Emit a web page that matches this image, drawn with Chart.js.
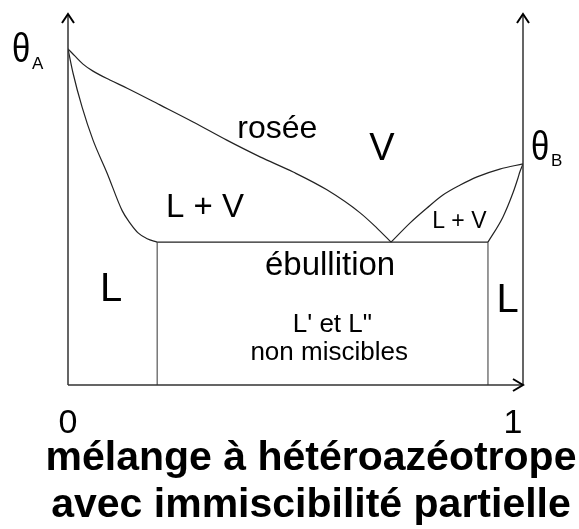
<!DOCTYPE html>
<html>
<head>
<meta charset="utf-8">
<script src="https://cdn.jsdelivr.net/npm/chart.js@4"></script>
<style>
  html, body { margin: 0; padding: 0; background: #fff; }
  canvas { display: block; }
</style>
</head>
<body>
<canvas id="chart" width="579" height="529"></canvas>
<script>
// mole fraction of B (x) vs temperature (arbitrary units, 0..100)
const roseeX = [0, 0.015, 0.033, 0.055, 0.092, 0.130, 0.202, 0.275, 0.349, 0.422, 0.495, 0.569, 0.642, 0.679, 0.710];
const roseeT = [90.6, 88.7, 86.5, 84.6, 82.2, 80.0, 75.5, 70.9, 66.0, 61.5, 57.4, 52.6, 46.4, 42.3, 38.5];

const liqAX = [0, 0.011, 0.031, 0.055, 0.086, 0.119, 0.136, 0.154, 0.174, 0.196];
const liqAT = [90.6, 84.1, 74.9, 66.0, 57.1, 47.0, 43.7, 41.0, 39.4, 38.5];

const vapBX = [0.710, 0.752, 0.789, 0.824, 0.862, 0.899, 0.949, 1.0];
const vapBT = [38.5, 43.7, 47.7, 51.2, 53.9, 56.1, 58.2, 59.6];

const liqBX = [0.923, 0.956, 0.978, 0.989, 0.993, 1.0];
const liqBT = [38.5, 45.3, 51.8, 55.8, 57.4, 59.6];

const ebullX = [0.196, 0.923];
const ebullT = [38.5, 38.5];

const limitsX = [0.196, 0.923];   // edges of the L' + L'' region
const limitsT = [-1, 38.5];

const tickLabels = ["0", "1"];
const title = ["mélange à hétéroazéotrope", "avec immiscibilité partielle"];

const pts = (xs, ys) => xs.map((x, i) => ({ x, y: ys[i] }));

function curve(data, color) {
  return {
    data,
    showLine: true,
    borderColor: color || "#222",
    borderWidth: 1.2,
    pointRadius: 0,
    fill: false,
    cubicInterpolationMode: "monotone",
  };
}

const datasets = [
  curve(pts(roseeX, roseeT)),
  curve(pts(liqAX, liqAT)),
  curve(pts(vapBX, vapBT)),
  curve(pts(liqBX, liqBT)),
  curve(pts(ebullX, ebullT)),
  curve(pts([limitsX[0], limitsX[0]], limitsT), "#555"),
  curve(pts([limitsX[1], limitsX[1]], limitsT), "#555"),
];

const FONT = "'Liberation Sans', Arial, sans-serif";

const decor = {
  id: "decor",
  afterDatasetsDraw(chart) {
    const { ctx, scales: { x, y } } = chart;
    const px = v => x.getPixelForValue(v);
    const py = v => y.getPixelForValue(v);
    ctx.save();

    // axes
    ctx.strokeStyle = "#333";
    ctx.lineWidth = 1.5;
    ctx.beginPath();
    ctx.moveTo(px(0), py(0)); ctx.lineTo(px(0), py(100));
    ctx.moveTo(px(1), py(0)); ctx.lineTo(px(1), py(100));
    ctx.moveTo(px(0), py(0)); ctx.lineTo(px(1), py(0));
    ctx.stroke();

    // arrow heads
    ctx.strokeStyle = "#000";
    ctx.lineWidth = 2;
    ctx.beginPath();
    [0, 1].forEach(v => {
      ctx.moveTo(px(v) - 6, py(100) + 9); ctx.lineTo(px(v), py(100)); ctx.lineTo(px(v) + 6, py(100) + 9);
    });
    ctx.moveTo(px(1) - 10, py(0) - 6); ctx.lineTo(px(1), py(0)); ctx.lineTo(px(1) - 10, py(0) + 6);
    ctx.stroke();

    ctx.fillStyle = "#000";
    ctx.textAlign = "center";
    ctx.textBaseline = "alphabetic";
    const txt = (s, xv, yv, size, weight) => {
      ctx.font = `${weight || "normal"} ${size}px ${FONT}`;
      ctx.fillText(s, px(xv), py(yv));
    };

    txt("rosée", 0.460, 66.6, 32);
    txt("V", 0.690, 60.6, 38);
    txt("L + V", 0.301, 45.3, 33);
    txt("L + V", 0.860, 42.3, 23);
    txt("ébullition", 0.576, 29.6, 33);
    txt("L' et L\"", 0.581, 14.3, 26);
    txt("non miscibles", 0.574, 6.7, 26);
    txt("L", 0.095, 22.6, 40);
    txt("L", 0.966, 19.7, 40);
    txt(tickLabels[0], 0, -12.9, 34);
    txt(tickLabels[1], 0.978, -12.9, 34);

    // theta labels (narrow, symbol-like)
    const theta = (lx, base, sub, sx, sbase) => {
      ctx.save();
      ctx.textAlign = "left";
      ctx.translate(lx, base);
      ctx.scale(0.82, 1);
      ctx.font = `40px ${FONT}`;
      ctx.fillText("θ", 0, 0);
      ctx.restore();
      ctx.textAlign = "left";
      ctx.font = `17px ${FONT}`;
      ctx.fillText(sub, sx, sbase);
    };
    theta(12, 62, "A", 32, 69);
    theta(531, 160, "B", 551, 166);

    // title
    ctx.textAlign = "center";
    ctx.font = `bold 41px ${FONT}`;
    ctx.fillText(title[0], 311, 470);
    ctx.fillText(title[1], 311, 517);
    ctx.restore();
  }
};

new Chart(document.getElementById("chart"), {
  type: "scatter",
  data: { datasets },
  options: {
    responsive: false,
    animation: false,
    events: [],
    layout: { padding: { left: 68, right: 56, top: 14, bottom: 144 } },
    scales: {
      x: { type: "linear", min: 0, max: 1, display: false },
      y: { type: "linear", min: 0, max: 100, display: false },
    },
    plugins: {
      legend: { display: false },
      tooltip: { enabled: false },
      title: { display: false },
    },
  },
  plugins: [decor],
});
</script>
</body>
</html>
